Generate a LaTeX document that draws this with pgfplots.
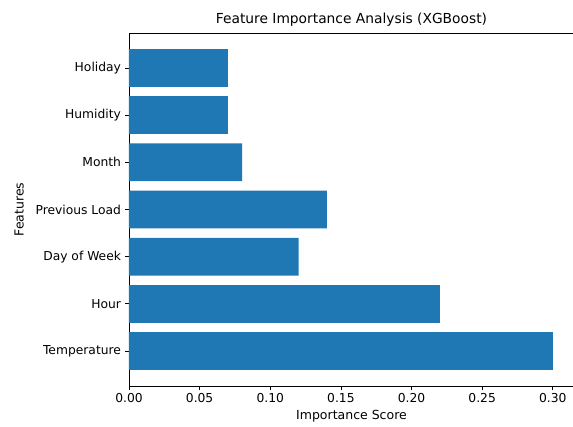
\documentclass[border=0pt]{standalone}
\usepackage{fontspec}
\setmainfont{DejaVu Sans}
\usepackage{pgfplots}
\pgfplotsset{compat=1.18}
\definecolor{mplblue}{HTML}{1F77B4}

\begin{document}
\begin{tikzpicture}
  \begin{axis}[
    at={(129pt,40pt)}, anchor=south west,
    width=445pt, height=353pt,
    scale only axis,
    xbar,
    bar width=0.8,
    bar shift=0pt,
    xmin=0, xmax=0.315,
    ymin=-0.74, ymax=6.74,
    xtick={0,0.05,0.10,0.15,0.20,0.25,0.30},
    ytick={0,1,2,3,4,5,6},
    yticklabels={Temperature,Hour,Day of Week,Previous Load,Month,Humidity,Holiday},
    xticklabel style={/pgf/number format/.cd,fixed,fixed zerofill,precision=2},
    /pgf/number format/assume math mode=true,
    tick align=outside,
    xtick pos=bottom, ytick pos=left,
    major tick length=3.5pt,
    tick style={black, line width=0.8pt},
    axis line style={black, line width=0.8pt},
    ticklabel style={font=\fontsize{12.3}{14}\selectfont},
    yticklabel style={xshift=-1pt},
    title={Feature Importance Analysis (XGBoost)},
    title style={font=\fontsize{13.8}{16}\selectfont, at={(0.5,1)}, anchor=south, inner sep=0pt, yshift=0pt},
    xlabel={Importance Score},
    ylabel={Features},
    label style={font=\fontsize{12.5}{14}\selectfont},
    xlabel style={yshift=-1pt},
    ylabel style={yshift=5pt},
  ]
    \addplot[fill=mplblue, draw=none] coordinates {
      (0.30,0) (0.22,1) (0.12,2) (0.14,3) (0.08,4) (0.07,5) (0.07,6)
    };
  \end{axis}
  \pgfresetboundingbox
  \useasboundingbox (0,0) rectangle (573pt,426pt);
\end{tikzpicture}
\end{document}
